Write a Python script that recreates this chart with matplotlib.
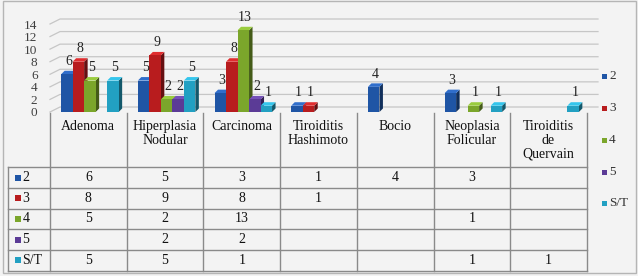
import numpy as np
import matplotlib
matplotlib.use('Agg')
import matplotlib.pyplot as plt
import matplotlib.colors as mcolors
from matplotlib.lines import Line2D
from matplotlib.patches import Polygon, Rectangle

# ---------------- data ----------------
categories = ["Adenoma", "Hiperplasia\nNodular", "Carcinoma", "Tiroiditis\nHashimoto",
              "Bocio", "Neoplasia\nFolicular", "Tiroiditis\nde\nQuervain"]
series_names = ["2", "3", "4", "5", "S/T"]
s_2 = [6, 5, 3, 1, 4, 3, None]
s_3 = [8, 9, 8, 1, None, None, None]
s_4 = [5, 2, 13, None, None, 1, None]
s_5 = [None, 2, 2, None, None, None, None]
s_ST = [5, 5, 1, None, None, 1, 1]
y_ticks = [0, 2, 4, 6, 8, 10, 12, 14]

series = [s_2, s_3, s_4, s_5, s_ST]
colors = ['#1f55a5', '#b81c1e', '#7ba62b', '#5b3b96', '#22a0c2']

plt.rcParams['font.family'] = ['Liberation Serif', 'DejaVu Serif']

W, H = 638, 276
fig = plt.figure(figsize=(W / 100, H / 100), dpi=100, facecolor='#f3f3f3')


def fx(x):
    return x / W


def fy(y):
    return 1 - y / H


# overall border
fig.add_artist(Rectangle((fx(3), fy(273)), fx(636) - fx(3), fy(1) - fy(273),
                         transform=fig.transFigure, fill=False, edgecolor='#b5b5b5', lw=1))

# ---------------- chart axes ----------------
ax_l, ax_r, ax_t, ax_b = 50, 598, 24, 112
ax = fig.add_axes([fx(ax_l), fy(ax_b), (ax_r - ax_l) / W, (ax_b - ax_t) / H])
ax.set_facecolor('none')
for s in ax.spines.values():
    s.set_visible(False)
colw = 76.7
xmax = -0.5 + (ax_r - ax_l) / colw
ax.set_xlim(-0.5, xmax)
ax.set_ylim(0, 14)
ppy = (ax_b - ax_t) / 14.0

# back wall gridlines with perspective side-wall
bdx, bdy = 10 / colw, 5 / ppy
for v in y_ticks:
    ax.plot([-0.5, -0.5 + bdx, xmax], [v, v + bdy, v + bdy], color='#c6c6c6', lw=0.9,
            clip_on=False, zorder=0)

ax.set_xticks([])
ax.set_yticks(y_ticks)
ax.tick_params(axis='y', length=0, pad=9, labelsize=9.5, labelcolor='#404040')

# 3D-ish bars
w = 0.15
ddx, ddy = 3.5 / colw, 3.5 / ppy
n = len(categories)
for i, (vals, c) in enumerate(zip(series, colors)):
    rgb = np.array(mcolors.to_rgb(c))
    side = tuple(rgb * 0.55)
    top = tuple(np.clip(rgb * 1.15 + 0.05, 0, 1))
    z = 3 + i
    for k in range(n):
        v = vals[k]
        if v is None:
            continue
        x0 = k + (i - 2.5) * w + 0.02
        ax.bar(x0, v, width=w, align='edge', color=c, zorder=z + 0.3, linewidth=0)
        ax.add_patch(Polygon([(x0 + w, 0), (x0 + w, v), (x0 + w + ddx, v + ddy), (x0 + w + ddx, ddy)],
                             closed=True, facecolor=side, edgecolor='none', zorder=z, clip_on=False))
        ax.add_patch(Polygon([(x0, v), (x0 + w, v), (x0 + w + ddx, v + ddy), (x0 + ddx, v + ddy)],
                             closed=True, facecolor=top, edgecolor='none', zorder=z + 0.2, clip_on=False))
        ax.annotate(str(v), (x0 + w / 2 + ddx / 2, v + ddy), xytext=(0, 2), textcoords='offset points',
                    ha='center', va='bottom', fontsize=10, color='#222222', zorder=20,
                    annotation_clip=False)

# ---------------- data table ----------------
line_c = '#8a8a8a'
col_edges = [50 + colw * k for k in range(n + 1)]
row_edges = [167, 188, 208.5, 229, 250, 270.5]


def hline(x0, x1, y):
    fig.add_artist(Line2D([fx(x0), fx(x1)], [fy(y), fy(y)], transform=fig.transFigure, color=line_c, lw=1))


def vline(x, y0, y1):
    fig.add_artist(Line2D([fx(x), fx(x)], [fy(y0), fy(y1)], transform=fig.transFigure, color=line_c, lw=1))


for xe in col_edges:
    vline(xe, 113, row_edges[-1])
vline(8, row_edges[0], row_edges[-1])
for ye in row_edges:
    hline(8, col_edges[-1], ye)

for k, cat in enumerate(categories):
    cx = (col_edges[k] + col_edges[k + 1]) / 2
    fig.text(fx(cx), fy(120), cat, ha='center', va='top', fontsize=10, linespacing=1.08,
             color='#111111')

for r, (name, vals, c) in enumerate(zip(series_names, series, colors)):
    cy = (row_edges[r] + row_edges[r + 1]) / 2
    fig.add_artist(Rectangle((fx(15), fy(cy + 3)), 6 / W, 6 / H, transform=fig.transFigure,
                             facecolor=c, edgecolor='none'))
    fig.text(fx(22.5), fy(cy), name, ha='left', va='center', fontsize=10, color='#111111')
    for k in range(n):
        if vals[k] is None:
            continue
        cx = (col_edges[k] + col_edges[k + 1]) / 2
        fig.text(fx(cx), fy(cy), str(vals[k]), ha='center', va='center', fontsize=10, color='#111111')

# ---------------- legend ----------------
leg_y = [76, 108, 140, 172, 203]
for name, c, ly in zip(series_names, colors, leg_y):
    fig.add_artist(Rectangle((fx(602), fy(ly + 2.5)), 5 / W, 5 / H, transform=fig.transFigure,
                             facecolor=c, edgecolor='none'))
    fig.text(fx(609), fy(ly), name, ha='left', va='center', fontsize=9.5, color='#333333')

fig.savefig('out.png', dpi=100, facecolor=fig.get_facecolor())
